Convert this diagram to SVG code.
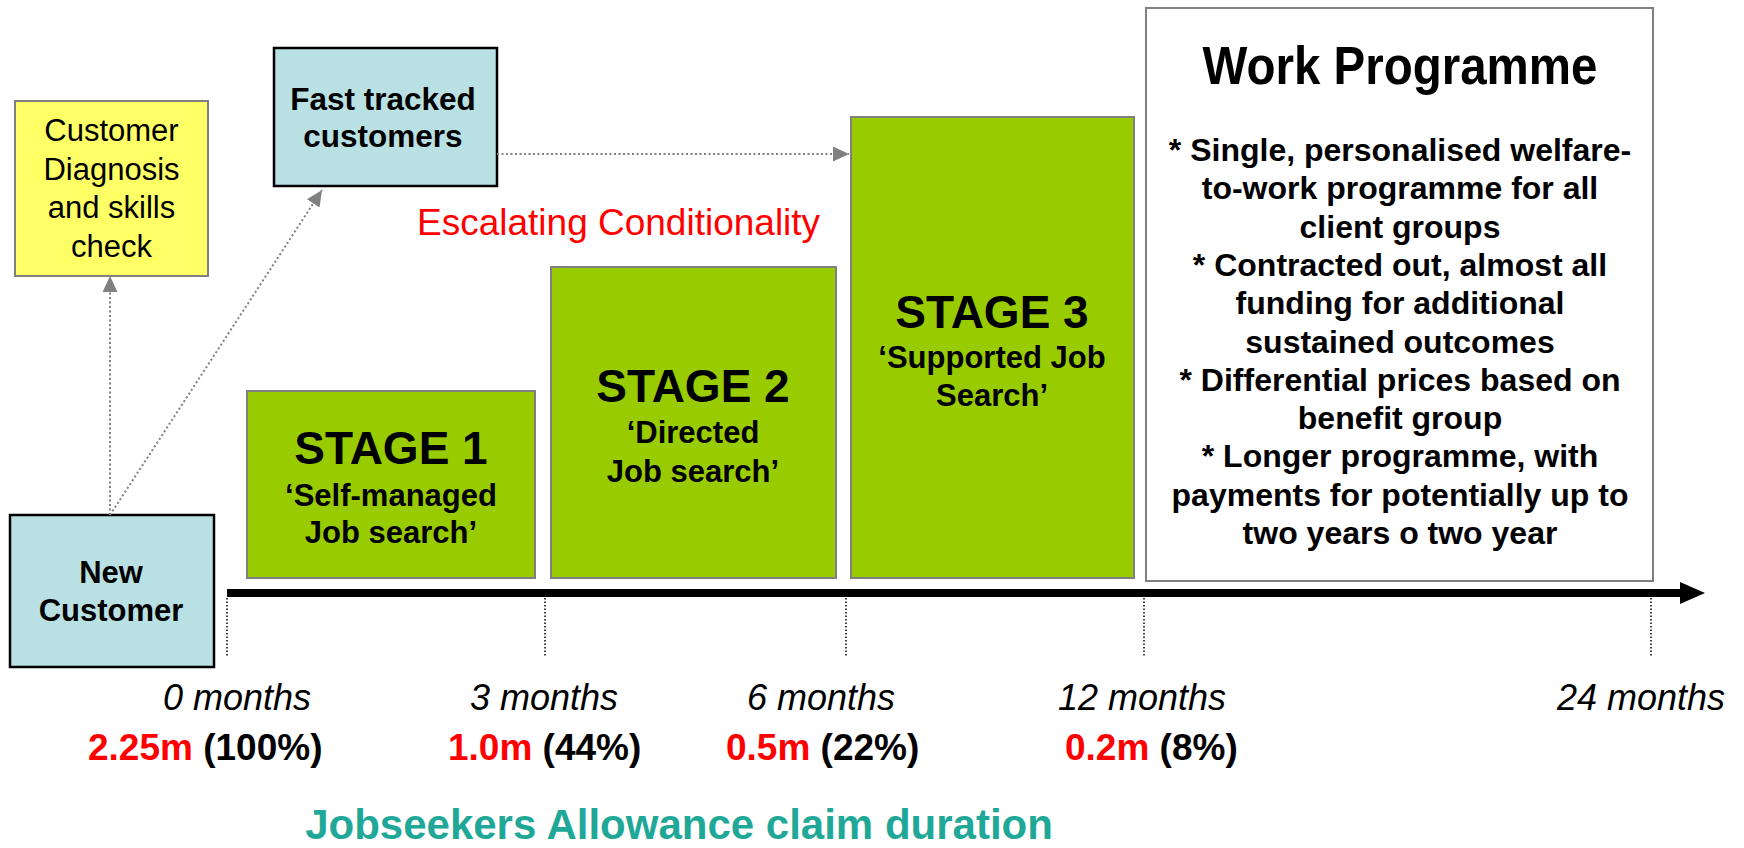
<svg xmlns="http://www.w3.org/2000/svg" width="1744" height="848" viewBox="0 0 1744 848">
<style>
text{font-family:"Liberation Sans",Arial,sans-serif;fill:#000}
.b{font-weight:bold}
.c{text-anchor:middle}
.blk{stroke:#000;stroke-width:2.5}
.stage{fill:#99CC00;stroke:#808080;stroke-width:2}
.dot{stroke:#808080;stroke-width:2;stroke-dasharray:2 2.5;fill:none}
.tick{stroke:#000;stroke-width:1.5;stroke-dasharray:1.5 2;fill:none}
.red{fill:#FF0000}
.mo{font-size:36px;font-style:italic}
.val{font-size:37px;font-weight:bold}
</style>
<defs>
<marker id="ah" markerUnits="userSpaceOnUse" markerWidth="16" markerHeight="15" refX="16" refY="7.5" orient="auto">
<path d="M0,0 L16,7.5 L0,15 z" fill="#808080"/>
</marker>
</defs>

<g id="customer-diagnosis">
<rect x="15" y="101" width="193" height="175" fill="#FFFF66" stroke="#808080" stroke-width="2"/>
<text class="c" x="111.5" y="141" font-size="31">Customer</text>
<text class="c" x="111.5" y="179.5" font-size="31">Diagnosis</text>
<text class="c" x="111.5" y="218" font-size="31">and skills</text>
<text class="c" x="111.5" y="256.5" font-size="31">check</text>
</g>

<g id="fast-tracked">
<rect x="274" y="48" width="223" height="138" fill="#B9E0E3" class="blk"/>
<text class="c b" x="383" y="110" font-size="31.5">Fast tracked</text>
<text class="c b" x="383" y="147" font-size="31.5">customers</text>
</g>

<g id="new-customer">
<rect x="10" y="515" width="204" height="152" fill="#B9E0E3" class="blk"/>
<text class="c b" x="111" y="583" font-size="31">New</text>
<text class="c b" x="111" y="621" font-size="31">Customer</text>
</g>

<g id="stage1">
<rect x="247" y="391" width="288" height="187" class="stage"/>
<text class="c b" x="391" y="464" font-size="46">STAGE 1</text>
<text class="c b" x="391" y="506" font-size="31">‘Self-managed</text>
<text class="c b" x="391" y="543" font-size="31">Job search’</text>
</g>

<g id="stage2">
<rect x="551" y="267" width="285" height="311" class="stage"/>
<text class="c b" x="693" y="402" font-size="46">STAGE 2</text>
<text class="c b" x="693" y="443" font-size="31">‘Directed</text>
<text class="c b" x="693" y="482" font-size="31">Job search’</text>
</g>

<g id="stage3">
<rect x="851" y="117" width="283" height="461" class="stage"/>
<text class="c b" x="992" y="328" font-size="46">STAGE 3</text>
<text class="c b" x="992" y="368" font-size="31">‘Supported Job</text>
<text class="c b" x="992" y="406" font-size="31">Search’</text>
</g>

<g id="work-programme">
<rect x="1146" y="8" width="507" height="573" fill="#FFFFFF" stroke="#808080" stroke-width="2"/>
<text class="c b" x="1400" y="0" font-size="47.5" transform="translate(0,84) scale(1,1.12)">Work Programme</text>
<g class="b" font-size="32" text-anchor="middle">
<text x="1400" y="161">* Single, personalised welfare-</text>
<text x="1400" y="199.3">to-work programme for all</text>
<text x="1400" y="237.6">client groups</text>
<text x="1400" y="275.9">* Contracted out, almost all</text>
<text x="1400" y="314.2">funding for additional</text>
<text x="1400" y="352.5">sustained outcomes</text>
<text x="1400" y="390.8">* Differential prices based on</text>
<text x="1400" y="429.1">benefit group</text>
<text x="1400" y="467.4">* Longer programme, with</text>
<text x="1400" y="505.7">payments for potentially up to</text>
<text x="1400" y="544">two years o two year</text>
</g>
</g>

<text id="escalating" x="417" y="235" font-size="37" class="red">Escalating Conditionality</text>

<g id="connectors">
<line class="dot" x1="110" y1="515" x2="110" y2="276" marker-end="url(#ah)"/>
<line class="dot" x1="110" y1="515" x2="322" y2="190" marker-end="url(#ah)"/>
<line class="dot" x1="497" y1="154" x2="849" y2="154" marker-end="url(#ah)"/>
</g>

<g id="axis">
<line x1="227" y1="593" x2="1682" y2="593" stroke="#000" stroke-width="8"/>
<polygon points="1680,582 1705,593 1680,604" fill="#000"/>
<line class="tick" x1="227" y1="598" x2="227" y2="657"/>
<line class="tick" x1="545" y1="598" x2="545" y2="657"/>
<line class="tick" x1="846" y1="598" x2="846" y2="657"/>
<line class="tick" x1="1144" y1="598" x2="1144" y2="657"/>
<line class="tick" x1="1651" y1="598" x2="1651" y2="657"/>
</g>

<g id="axis-labels">
<text class="mo" x="163" y="710">0 months</text>
<text class="mo" x="470" y="710">3 months</text>
<text class="mo" x="747" y="710">6 months</text>
<text class="mo" x="1058" y="710">12 months</text>
<text class="mo" x="1557" y="710">24 months</text>
<text class="val" x="88" y="760"><tspan class="red">2.25m</tspan> (100%)</text>
<text class="val" x="448" y="760"><tspan class="red">1.0m</tspan> (44%)</text>
<text class="val" x="726" y="760"><tspan class="red">0.5m</tspan> (22%)</text>
<text class="val" x="1065" y="760"><tspan class="red">0.2m</tspan> (8%)</text>
</g>

<text id="caption" class="c b" x="679" y="839" font-size="42" style="fill:#1FA898">Jobseekers Allowance claim duration</text>
</svg>
